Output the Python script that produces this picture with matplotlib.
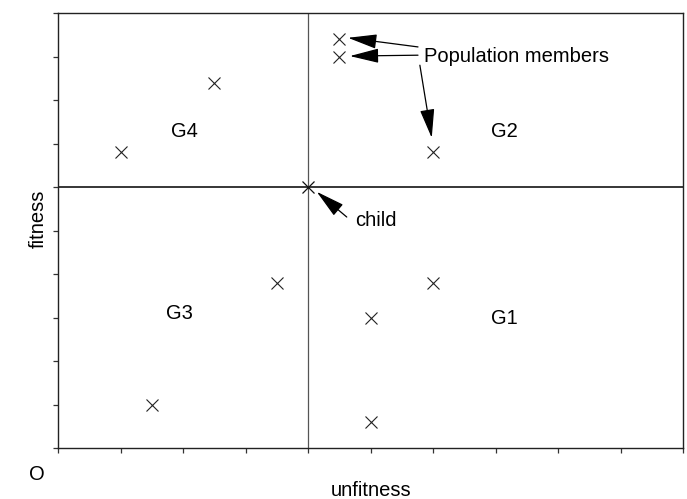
import matplotlib
matplotlib.use("Agg")
import matplotlib.pyplot as plt

plt.rcParams['font.family'] = ['Liberation Sans', 'DejaVu Sans']

# population members
pop_x = [1.0, 2.5, 4.5, 4.5, 6.0, 3.5, 1.5, 6.0, 5.0, 5.0]
pop_y = [6.8, 8.4, 9.4, 9.0, 6.8, 3.8, 1.0, 3.8, 3.0, 0.6]
child_x = [4.0]
child_y = [6.0]

group_labels = ["G1", "G2", "G3", "G4"]
group_x = [7.15, 7.14, 1.94, 2.03]
group_y = [2.85, 7.14, 2.96, 7.16]

xlim = (0, 10)
ylim = (0, 10)
xticks = list(range(0, 11))
yticks = list(range(0, 11))

W, H = 687, 499
fig = plt.figure(figsize=(W / 100, H / 100), dpi=100)
ax = fig.add_axes([58 / W, 1 - 448 / H, (683 - 58) / W, (448 - 13) / H])
ax.set_xlim(*xlim)
ax.set_ylim(*ylim)
ax.set_xticks(xticks)
ax.set_yticks(yticks)
ax.set_xticklabels([])
ax.set_yticklabels([])
ax.tick_params(direction='out', length=3.6, width=0.9, color='#333333',
               top=False, right=False)
for s in ax.spines.values():
    s.set_linewidth(1.0)
    s.set_color('#222222')

ax.axhline(child_y[0], color='black', lw=1.1, zorder=1)
ax.axvline(child_x[0], color='#555555', lw=0.9, zorder=1)

ax.plot(pop_x, pop_y, linestyle='none', marker='x', ms=8.5, mew=0.8, color='#222222')
ax.plot(child_x, child_y, linestyle='none', marker='x', ms=9, mew=0.9, color='#111111')

fs = 14.5
for lab, gx, gy in zip(group_labels, group_x, group_y):
    ax.text(gx, gy, lab, ha='center', va='baseline', fontsize=fs)

ax.text(5.86, 8.88, "Population members", ha='left', va='baseline', fontsize=fs)
ax.text(4.75, 5.10, "child", ha='left', va='baseline', fontsize=fs)

aprops = dict(arrowstyle='-|>,head_length=1.8,head_width=0.45', color='black',
              lw=0.9, mutation_scale=10, shrinkA=0, shrinkB=0)
arrows = [((5.76, 9.22), (4.64, 9.43)),
          ((5.76, 9.03), (4.67, 9.01)),
          ((5.79, 8.80), (5.98, 7.13)),
          ((4.62, 5.31), (4.14, 5.89))]
for start, tip in arrows:
    ax.annotate("", xy=tip, xytext=start, arrowprops=aprops)

ax.text(-0.34, -0.62, "O", ha='center', va='center', fontsize=fs, clip_on=False)
fig.text(38.5 / W, 1 - 219 / H, "fitness", rotation=90, ha='center', va='center', fontsize=fs)
fig.text(371 / W, 1 - 491 / H, "unfitness", ha='center', va='center', fontsize=fs)

fig.savefig("out.png", dpi=100, facecolor='white')
